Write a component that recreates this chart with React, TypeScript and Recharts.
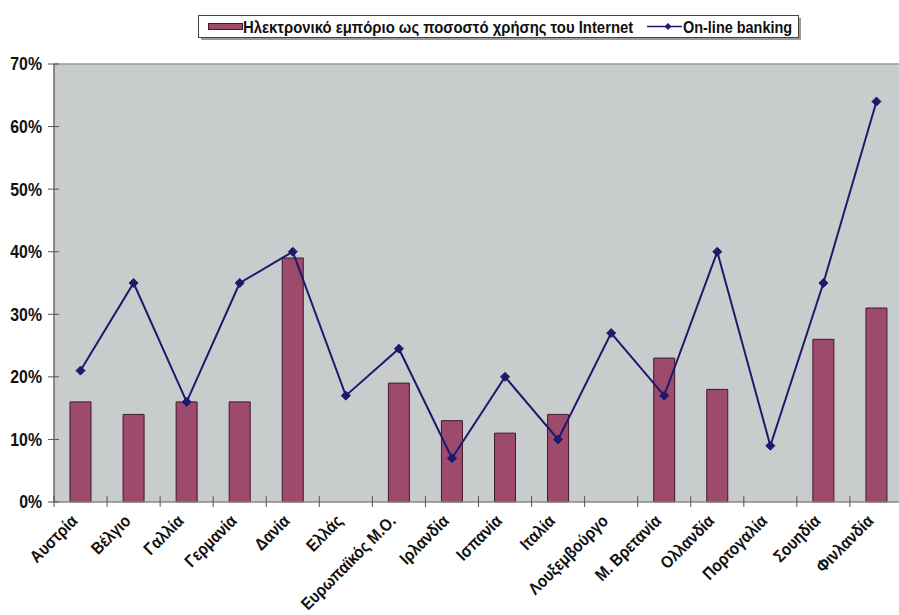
import React from 'react';
import { ComposedChart, Bar, Line, XAxis, YAxis, CartesianGrid, Legend, ReferenceLine } from 'recharts';

const countries = [
  'Αυστρία', 'Βέλγιο', 'Γαλλία', 'Γερμανία', 'Δανία', 'Ελλάς', 'Ευρωπαϊκός Μ.Ο.', 'Ιρλανδία',
  'Ισπανία', 'Ιταλία', 'Λουξεμβούργο', 'Μ. Βρετανία', 'Ολλανδία', 'Πορτογαλία', 'Σουηδία', 'Φινλανδία',
];
const ecommerce: (number | null)[] = [16, 14, 16, 16, 39, null, 19, 13, 11, 14, null, 23, 18, null, 26, 31];
const banking: number[] = [21, 35, 16, 35, 40, 17, 24.5, 7, 20, 10, 27, 17, 40, 9, 35, 64];
const yTicks = [0, 10, 20, 30, 40, 50, 60, 70];

const BAR_NAME = 'Ηλεκτρονικό εμπόριο ως ποσοστό χρήσης του Internet';
const LINE_NAME = 'On-line banking';

const data = countries.map((c, i) => ({ country: c, ecommerce: ecommerce[i], banking: banking[i] }));

const FONT = '"Liberation Sans", Arial, sans-serif';
const BAR_FILL = '#9d4a6c';
const BAR_STROKE = '#3e1a2b';
const LINE_COLOR = '#1d1a6c';

// category labels: condensed bold text rotated 45°, tick marks at band edges
const XTick = (props: any) => {
  const { x, y, payload } = props;
  const half = payload.offset || 0;
  const tx = x - 2;
  const ty = y + 20;
  return (
    <g>
      <line x1={x - half} x2={x - half} y1={y - 6} y2={y + 5} stroke="#555" strokeWidth={1} />
      <text
        transform={`translate(${tx},${ty}) rotate(-45) scale(0.88,1)`}
        textAnchor="end"
        fontFamily={FONT}
        fontWeight="bold"
        fontSize={17}
        fill="#111"
      >
        {payload.value}
      </text>
    </g>
  );
};

const YTick = (props: any) => {
  const { x, y, payload } = props;
  return (
    <g>
      <line x1={x - 6} x2={x + 5} y1={y} y2={y} stroke="#555" strokeWidth={1} />
      <text
        transform={`translate(${x - 12},${y}) scale(0.88,1)`}
        dy="0.36em"
        textAnchor="end"
        fontFamily={FONT}
        fontWeight="bold"
        fontSize={18}
        fill="#111"
      >
        {`${payload.value}%`}
      </text>
    </g>
  );
};

const Diamond = (props: any) => {
  const { cx, cy } = props;
  if (cx == null || cy == null) return null;
  const r = 4.5;
  return <polygon points={`${cx},${cy - r} ${cx + r},${cy} ${cx},${cy + r} ${cx - r},${cy}`} fill={LINE_COLOR} stroke={LINE_COLOR} />;
};

// framed legend with a drop shadow; condensed bold labels
const LegendBox = (props: any) => {
  const items: any[] = props.payload || [];
  const bar = items.find((p) => p.dataKey === 'ecommerce');
  const line = items.find((p) => p.dataKey === 'banking');
  return (
    <svg width={640} height={27} style={{ display: 'block', overflow: 'visible' }}>
      <rect x={3} y={3} width={600} height={22} fill="#9a9a9a" />
      <rect x={0.5} y={0.5} width={600} height={22} fill="#fff" stroke="#444" strokeWidth={1} />
      <rect x={10.5} y={8.5} width={34} height={6} fill={BAR_FILL} stroke={BAR_STROKE} strokeWidth={1} />
      <text
        transform="translate(45,17.5) scale(0.875,1)"
        fontFamily={FONT}
        fontWeight="bold"
        fontSize={17}
        fill="#111"
      >
        {bar ? bar.value : BAR_NAME}
      </text>
      <line x1={449} x2={484} y1={11.5} y2={11.5} stroke={LINE_COLOR} strokeWidth={1.5} />
      <polygon points="470,8 473.5,11.5 470,15 466.5,11.5" fill={LINE_COLOR} />
      <text
        transform="translate(485,17.5) scale(0.85,1)"
        fontFamily={FONT}
        fontWeight="bold"
        fontSize={17}
        fill="#111"
      >
        {line ? line.value : LINE_NAME}
      </text>
    </svg>
  );
};

export default function App() {
  return (
    <div style={{ position: 'absolute', left: 0, top: 0, width: 899, height: 615, overflow: 'hidden', background: '#fff' }}>
      <ComposedChart width={920} height={615} data={data} margin={{ top: 64, right: 17, bottom: 0, left: 0 }}>
        <CartesianGrid horizontal={false} vertical={false} fill="#c9cccc" />
        <XAxis
          dataKey="country"
          interval={0}
          height={113}
          tickSize={0}
          tickMargin={0}
          tickLine={false}
          axisLine={{ stroke: '#8a8a8a', strokeWidth: 1.5 }}
          tick={<XTick />}
        />
        <YAxis
          width={54}
          domain={[0, 70]}
          ticks={yTicks}
          interval={0}
          tickSize={0}
          tickMargin={0}
          tickLine={false}
          axisLine={{ stroke: '#6a6a6a', strokeWidth: 1.5 }}
          tick={<YTick />}
        />
        <ReferenceLine y={70} stroke="#9a9a9a" strokeWidth={1.5} />
        <Legend
          layout="horizontal"
          verticalAlign="middle"
          align="center"
          wrapperStyle={{ top: 15, left: 198, width: 640, height: 27 }}
          content={<LegendBox />}
        />
        <Bar
          dataKey="ecommerce"
          name={BAR_NAME}
          barSize={21}
          fill={BAR_FILL}
          stroke={BAR_STROKE}
          strokeWidth={1}
          isAnimationActive={false}
        />
        <Line
          dataKey="banking"
          name={LINE_NAME}
          type="linear"
          stroke={LINE_COLOR}
          strokeWidth={2}
          dot={<Diamond />}
          activeDot={false}
          isAnimationActive={false}
        />
      </ComposedChart>
    </div>
  );
}
